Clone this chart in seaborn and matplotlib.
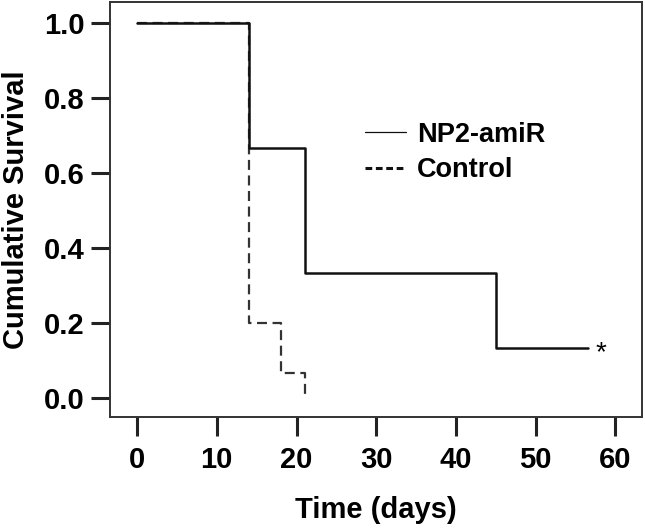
import matplotlib
matplotlib.use("Agg")
import matplotlib.pyplot as plt
from matplotlib.lines import Line2D
import seaborn as sns
import pandas as pd

# Kaplan-Meier steps
np2_time = [0, 14, 21, 45, 56.5]
np2_surv = [1.0, 0.667, 0.333, 0.133, 0.133]
ctrl_time = [0, 14, 18, 21]
ctrl_surv = [1.0, 0.2, 0.067, 0.0]
x_ticks = [0, 10, 20, 30, 40, 50, 60]
y_ticks = [0.0, 0.2, 0.4, 0.6, 0.8, 1.0]
labels = ['NP2-amiR', 'Control']

sns.set_style('ticks')
plt.rcParams['font.family'] = ['Liberation Sans', 'DejaVu Sans']
plt.rcParams['font.weight'] = 'bold'
plt.rcParams['text.color'] = 'black'
plt.rcParams['axes.labelcolor'] = 'black'
plt.rcParams['xtick.color'] = 'black'
plt.rcParams['ytick.color'] = 'black'

fig = plt.figure(figsize=(6.45, 5.30), dpi=100)
ax = fig.add_axes([0.1705, 0.2132, 0.8245, 0.7828])

ctrl = pd.DataFrame({'time': ctrl_time, 'surv': ctrl_surv})
np2 = pd.DataFrame({'time': np2_time, 'surv': np2_surv})

# control first so the solid line sits on top
sns.lineplot(data=ctrl, x='time', y='surv', estimator=None, sort=False, ax=ax,
             drawstyle='steps-post', color='#333333', linewidth=1.6,
             dashes=False, linestyle=(0, (4.5, 2.5)), legend=False)
sns.lineplot(data=np2, x='time', y='surv', estimator=None, sort=False, ax=ax,
             drawstyle='steps-post', color='#111111', linewidth=1.8, legend=False)

# censor mark
ax.text(58.2, 0.118, '*', fontsize=20, fontweight='normal', ha='center', va='center')

ax.set_xlim(-3.4, 63.3)
ax.set_ylim(-0.051, 1.055)
ax.set_xticks(x_ticks)
ax.set_yticks(y_ticks)
ax.set_xticklabels([str(t) for t in x_ticks])
ax.set_yticklabels(['%.1f' % t for t in y_ticks])
ax.tick_params(axis='both', length=14, width=2.2, color='#222222', labelsize=21)
ax.tick_params(axis='x', pad=7)
ax.tick_params(axis='y', pad=4)
for s in ax.spines.values():
    s.set_linewidth(1.4)
    s.set_color('#333333')

ax.set_xlabel('Time (days)', fontsize=21, fontweight='bold', labelpad=16)
ax.set_ylabel('Cumulative Survival', fontsize=21, fontweight='bold', labelpad=10)

handles = [Line2D([], [], color='#111111', linewidth=0.9),
           Line2D([], [], color='#111111', linewidth=2.2, linestyle=(0, (2.2, 1.2)))]
leg = ax.legend(handles, labels, loc='upper left', bbox_to_anchor=(0.48, 0.712),
                frameon=False, fontsize=19.5, handlelength=1.5, handletextpad=0.4,
                labelspacing=0.36, borderpad=0, borderaxespad=0)
for t in leg.get_texts():
    t.set_fontweight('bold')

fig.savefig('out.png', dpi=100)
